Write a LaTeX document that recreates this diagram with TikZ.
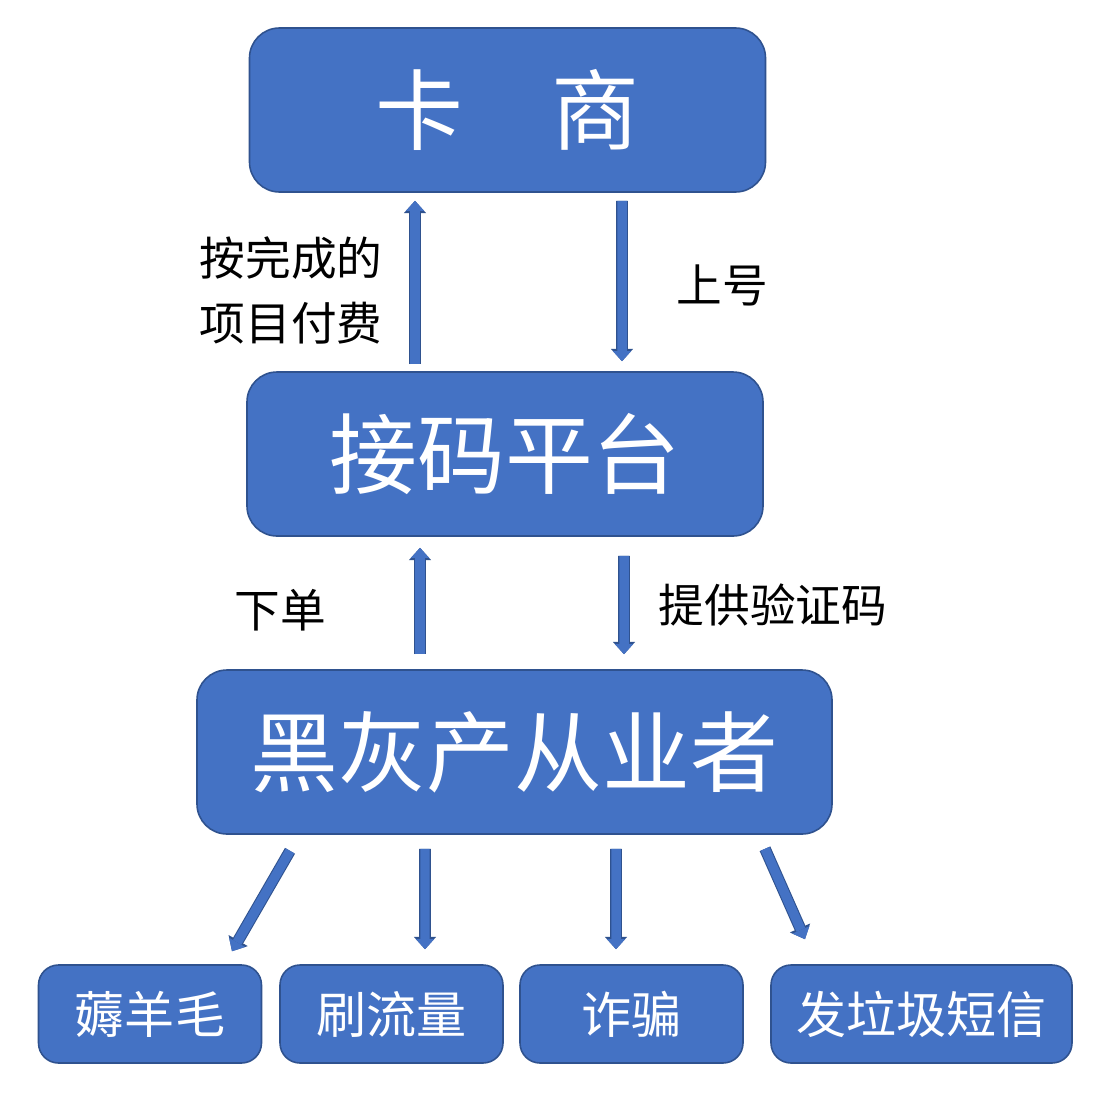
\documentclass[tikz,border=0pt]{standalone}
\usepackage{fontspec}
\newfontfamily\cjk{Noto Sans CJK SC}
\usepackage{tikz}
\usetikzlibrary{arrows.meta,calc}
\definecolor{boxblue}{HTML}{4472C4}
\definecolor{edgeblue}{HTML}{2F528F}

\begin{document}
\begin{tikzpicture}[x=0.2mm,y=-0.2mm,
    bigbox/.style={draw=edgeblue,fill=boxblue,line width=0.9pt,rounded corners=6mm,
      minimum width=103.2mm,minimum height=32.8mm,inner sep=0pt,text=white,
      font=\cjk\fontsize{50}{60}\selectfont},
    smallbox/.style={draw=edgeblue,fill=boxblue,line width=0.9pt,rounded corners=4mm,
      minimum width=44.6mm,minimum height=19.6mm,inner sep=0pt,text=white,
      font=\cjk\fontsize{28.5}{34}\selectfont},
    lbl/.style={font=\cjk\fontsize{26}{37}\selectfont,inner sep=0pt},
    blk/.style={draw=boxblue,line width=5.4pt,-{Triangle[width=10.5pt,length=5.8pt,line width=0pt]},
      preaction={draw=edgeblue,line width=6.6pt,-{Triangle[width=12.6pt,length=7pt,line width=0pt]}}}]
      \useasboundingbox (0,0) rectangle (1096,1098);
      \fill[white] (0,0) rectangle (1096,1098);
      % the three levels
      \node[bigbox] (ks) at (507.5,110) {卡　商};
      \node[bigbox] (jm) at (505,454) {接码平台};
      \node[bigbox,minimum width=127mm] (hh) at (514.5,752) {黑灰产从业者};
      % what the orders are used for
      \node[smallbox] (ym) at (150,1014) {薅羊毛};
      \node[smallbox] (llx) at (391.5,1014) {刷流量};
      \node[smallbox] (zp) at (631.5,1014) {诈骗};
      \node[smallbox,minimum width=60.2mm] (lj) at (921.5,1014) {发垃圾短信};
      % labels
      \node[lbl,align=left] (pay) at (291,290) {按完成的\\项目付费};
      \node[lbl] (sh) at (722,285) {上号};
      \node[lbl] (xd) at (280,610) {下单};
      \node[lbl] (yzm) at (773,605) {提供验证码};
      % arrows
      \draw[blk] ($(jm.north)+(-90,-7)$) -- ($(ks.south)+(-92.5,8)$);
      \draw[blk] ($(ks.south)+(114.5,8)$) -- ($(jm.north)+(117,-10)$);
      \draw[blk] ($(hh.north)+(-94.5,-15)$) -- ($(jm.south)+(-85,11)$);
      \draw[blk] ($(jm.south)+(119,19)$) -- ($(hh.north)+(109.5,-15)$);
      \draw[blk] ($(hh.south)+(-224.5,16)$) -- ($(ym.north)+(82,-13)$);
      \draw[blk] ($(hh.south)+(-89.5,14)$) -- ($(llx.north)+(33.5,-15)$);
      \draw[blk] ($(hh.south)+(101.5,14)$) -- ($(zp.north)+(-15.5,-15)$);
      \draw[blk] ($(hh.south)+(250.5,14)$) -- ($(lj.north)+(-116.5,-25)$);
\end{tikzpicture}
\end{document}
